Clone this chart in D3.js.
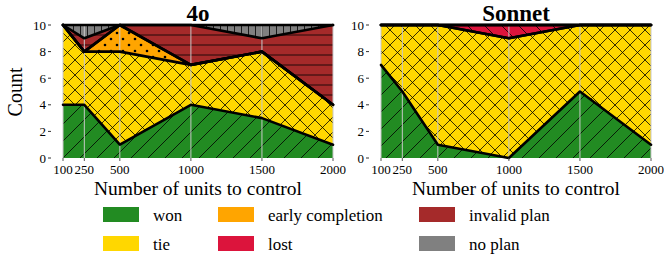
<!DOCTYPE html>
<html>
<head>
<meta charset="utf-8">
<script src="https://cdn.jsdelivr.net/npm/d3@7"></script>
<style>
  body { margin: 0; background: #fff; }
</style>
</head>
<body>
<svg width="664" height="256" font-family="'Liberation Serif', 'DejaVu Serif', serif"></svg>
<script>
// data
const units = [100, 250, 500, 1000, 1500, 2000];
const categories = ["won", "tie", "early completion", "lost", "invalid plan", "no plan"];
const colors = ["#228B22", "#FFD700", "#FFA500", "#DC143C", "#A52A2A", "#808080"];
const models = ["4o", "Sonnet"];

const won4o      = [4, 4, 1, 4, 3, 1];
const tie4o      = [6, 4, 7, 3, 5, 3];
const early4o    = [0, 0, 2, 0, 0, 0];
const lost4o     = [0, 0, 0, 0, 0, 0];
const invalid4o  = [0, 1, 0, 3, 1, 6];
const noplan4o   = [0, 1, 0, 0, 1, 0];

const wonSonnet     = [7, 5, 1, 0, 5, 1];
const tieSonnet     = [3, 5, 9, 9, 5, 9];
const earlySonnet   = [0, 0, 0, 0, 0, 0];
const lostSonnet    = [0, 0, 0, 1, 0, 0];
const invalidSonnet = [0, 0, 0, 0, 0, 0];
const noplanSonnet  = [0, 0, 0, 0, 0, 0];

const yTicks = [0, 2, 4, 6, 8, 10];

const series = {
  "4o": [won4o, tie4o, early4o, lost4o, invalid4o, noplan4o],
  "Sonnet": [wonSonnet, tieSonnet, earlySonnet, lostSonnet, invalidSonnet, noplanSonnet]
};

const svg = d3.select("svg");
const defs = svg.append("defs");

// hatch patterns (one per category)
function pat(id, size, draw) {
  const p = defs.append("pattern").attr("id", id)
    .attr("patternUnits", "userSpaceOnUse")
    .attr("width", size).attr("height", size);
  draw(p, size);
}
function ln(p, x1, y1, x2, y2) {
  p.append("line").attr("x1", x1).attr("y1", y1).attr("x2", x2).attr("y2", y2)
    .attr("stroke", "#000").attr("stroke-width", 0.8);
}
pat("p0", 17, (p, s) => { ln(p, 0, s, s, 0); ln(p, -1, 1, 1, -1); ln(p, s - 1, s + 1, s + 1, s - 1); });
pat("p1", 15, (p, s) => { ln(p, 0, s, s, 0); ln(p, 0, 0, s, s); });
pat("p2", 12, (p, s) => {
  p.append("circle").attr("cx", 3).attr("cy", 3).attr("r", 1.3).attr("fill", "#000");
  p.append("circle").attr("cx", 9).attr("cy", 9).attr("r", 1.3).attr("fill", "#000");
});
pat("p3", 17, (p, s) => { ln(p, 0, 0, s, s); ln(p, -1, s - 1, 1, s + 1); ln(p, s - 1, -1, s + 1, 1); });
pat("p4", 10, (p, s) => { ln(p, 0, 5, s, 5); });
pat("p5", 7, (p, s) => { ln(p, 3.5, 0, 3.5, s); });

const panels = [
  { model: "4o", x0: 63, x1: 333 },
  { model: "Sonnet", x0: 381, x1: 651 }
];
const yTop = 25, yBot = 158;

const y = d3.scaleLinear().domain([0, 10]).range([yBot, yTop]);

panels.forEach(pn => {
  const x = d3.scaleLinear().domain([100, 2000]).range([pn.x0, pn.x1]);
  const rows = units.map((u, i) => {
    const r = { units: u };
    categories.forEach((c, k) => { r[c] = series[pn.model][k][i]; });
    return r;
  });
  const stacked = d3.stack().keys(categories)(rows);

  const g = svg.append("g");
  g.append("rect").attr("x", pn.x0).attr("y", yTop)
    .attr("width", pn.x1 - pn.x0).attr("height", yBot - yTop).attr("fill", "#fff");

  const area = d3.area()
    .x(d => x(d.data.units))
    .y0(d => y(d[0]))
    .y1(d => y(d[1]));

  stacked.forEach((layer, k) => {
    g.append("path").attr("d", area(layer)).attr("fill", colors[k]);
    g.append("path").attr("d", area(layer)).attr("fill", `url(#p${k})`);
  });

  // vertical grid
  g.selectAll(".grid").data(units).join("line")
    .attr("x1", d => x(d)).attr("x2", d => x(d))
    .attr("y1", yTop).attr("y2", yBot)
    .attr("stroke", "#c8c8c8").attr("stroke-width", 1);

  // outlines along the top of each layer
  const line = d3.line().x(d => x(d.data.units)).y(d => y(d[1]));
  stacked.forEach(layer => {
    g.append("path").attr("d", line(layer))
      .attr("fill", "none").attr("stroke", "#000")
      .attr("stroke-width", 2.6).attr("stroke-linejoin", "round")
      .attr("stroke-linecap", "round");
  });

  // y axis
  yTicks.forEach(t => {
    g.append("text").attr("x", pn.x0 - 17).attr("y", y(t) + 4.5)
      .attr("text-anchor", "end").attr("font-size", 13).text(t);
    g.append("line").attr("x1", pn.x0 - 15).attr("x2", pn.x0 - 12)
      .attr("y1", y(t)).attr("y2", y(t)).attr("stroke", "#333").attr("stroke-width", 1);
  });

  // x axis
  units.forEach(u => {
    g.append("line").attr("x1", x(u)).attr("x2", x(u))
      .attr("y1", yBot).attr("y2", yBot + 3).attr("stroke", "#555");
    g.append("text").attr("x", x(u)).attr("y", 174)
      .attr("text-anchor", "middle").attr("font-size", 13).text(u);
  });

  g.append("text").attr("x", (pn.x0 + pn.x1) / 2).attr("y", 195)
    .attr("text-anchor", "middle").attr("font-size", 19.5).text("Number of units to control");

  g.append("text").attr("x", (pn.x0 + pn.x1) / 2).attr("y", 21)
    .attr("text-anchor", "middle").attr("font-size", 23).attr("font-weight", "bold")
    .text(pn.model);
});

svg.append("text").attr("transform", "translate(22,92) rotate(-90)")
  .attr("text-anchor", "middle").attr("font-size", 20).text("Count");

// legend, filled by column
const legX = [103, 218, 419];
const legY = [207, 236];
categories.forEach((c, k) => {
  const cx = legX[Math.floor(k / 2)], cy = legY[k % 2];
  svg.append("rect").attr("x", cx).attr("y", cy).attr("width", 36).attr("height", 15)
    .attr("fill", colors[k]);
  svg.append("text").attr("x", cx + 50).attr("y", cy + 14)
    .attr("font-size", 17).text(c);
});
</script>
</body>
</html>
